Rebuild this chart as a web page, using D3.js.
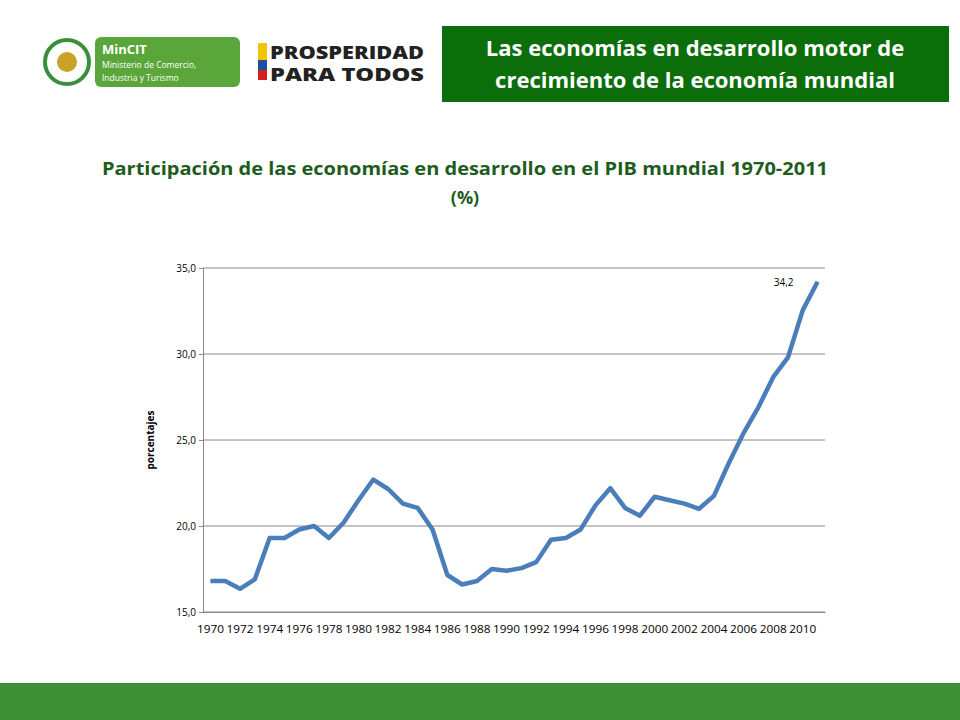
<!DOCTYPE html>
<meta charset="utf-8">
<html lang="es">
<head>
<script src="https://d3js.org/d3.v7.min.js"></script>
<style>
body { margin: 0; background: #fff; font-family: "Open Sans", Calibri, sans-serif; }
</style>
</head>
<body>
<div id="chart"></div>
<script>
const years = d3.range(1970, 2012).map(String);
const shares = [16.8, 16.8, 16.35, 16.9, 19.3, 19.3, 19.8, 20.0, 19.3, 20.2,
  21.5, 22.7, 22.15, 21.3, 21.05, 19.8, 17.15, 16.6, 16.8, 17.5,
  17.4, 17.55, 17.9, 19.2, 19.3, 19.8, 21.2, 22.2, 21.05, 20.6,
  21.7, 21.5, 21.3, 21.0, 21.75, 23.65, 25.4, 26.9, 28.65, 29.8,
  32.55, 34.2];
const yTicks = [15, 20, 25, 30, 35];
const fmt = v => d3.format(".1f")(v).replace(".", ",");

const svg = d3.select("#chart").append("svg").attr("width", 960).attr("height", 720);

// header
svg.append("rect").attr("x", 442).attr("y", 26).attr("width", 507).attr("height", 76).attr("fill", "#0b6e0b");
svg.append("text").attr("x", 695).attr("y", 56).attr("text-anchor", "middle").attr("fill", "#fff")
  .attr("font-size", 22).attr("font-weight", "bold").text("Las economías en desarrollo motor de");
svg.append("text").attr("x", 695).attr("y", 88).attr("text-anchor", "middle").attr("fill", "#fff")
  .attr("font-size", 22).attr("font-weight", "bold").text("crecimiento de la economía mundial");

// MinCIT logo
svg.append("circle").attr("cx", 67).attr("cy", 62).attr("r", 22).attr("fill", "#fff").attr("stroke", "#3a8f3a").attr("stroke-width", 4);
svg.append("circle").attr("cx", 67).attr("cy", 62).attr("r", 10).attr("fill", "#c9a227");
svg.append("rect").attr("x", 95).attr("y", 37).attr("width", 145).attr("height", 50).attr("rx", 6).attr("fill", "#5aa63a");
svg.append("text").attr("x", 102).attr("y", 54).attr("fill", "#fff").attr("font-size", 13).attr("font-weight", "bold").text("MinCIT");
svg.append("text").attr("x", 102).attr("y", 68).attr("fill", "#fff").attr("font-size", 8.5).text("Ministerio de Comercio,");
svg.append("text").attr("x", 102).attr("y", 81).attr("fill", "#fff").attr("font-size", 8.5).text("Industria y Turismo");

// Prosperidad logo
svg.append("rect").attr("x", 258).attr("y", 43).attr("width", 9).attr("height", 17).attr("fill", "#f5c400");
svg.append("rect").attr("x", 258).attr("y", 60).attr("width", 9).attr("height", 10).attr("fill", "#1d4ea0");
svg.append("rect").attr("x", 258).attr("y", 70).attr("width", 9).attr("height", 10).attr("fill", "#d62020");
svg.append("text").attr("x", 270).attr("y", 59).attr("font-size", 17).attr("font-weight", "900").attr("fill", "#222")
  .attr("textLength", 154).attr("lengthAdjust", "spacingAndGlyphs").text("PROSPERIDAD");
svg.append("text").attr("x", 270).attr("y", 81).attr("font-size", 17).attr("font-weight", "900").attr("fill", "#222")
  .attr("textLength", 154).attr("lengthAdjust", "spacingAndGlyphs").text("PARA TODOS");

// title
svg.append("text").attr("x", 465).attr("y", 175).attr("text-anchor", "middle").attr("fill", "#1e5c1e")
  .attr("font-size", 18).attr("font-weight", "bold")
  .attr("textLength", 726).attr("lengthAdjust", "spacingAndGlyphs")
  .text("Participación de las economías en desarrollo en el PIB mundial 1970-2011");
svg.append("text").attr("x", 465).attr("y", 204).attr("text-anchor", "middle").attr("fill", "#1e5c1e")
  .attr("font-size", 18).attr("font-weight", "bold").text("(%)");

// footer
svg.append("rect").attr("x", 0).attr("y", 683).attr("width", 960).attr("height", 37).attr("fill", "#3e9137");

// chart
const m = {left: 203, right: 825, top: 268, bottom: 612};
const x = d3.scaleBand().domain(years).range([m.left, m.right]);
const y = d3.scaleLinear().domain([15, 35]).range([m.bottom, m.top]);

svg.append("g").selectAll("line").data(yTicks).join("line")
  .attr("x1", m.left).attr("x2", m.right).attr("y1", d => y(d)).attr("y2", d => y(d))
  .attr("stroke", "#888").attr("stroke-width", 1);

const yAxis = svg.append("g").attr("transform", `translate(${m.left},0)`)
  .call(d3.axisLeft(y).tickValues(yTicks).tickFormat(fmt).tickSize(4));
yAxis.select(".domain").attr("stroke", "#888");
yAxis.selectAll("line").attr("stroke", "#888");
yAxis.selectAll("text").attr("font-size", 10).attr("font-family", "Open Sans, sans-serif").attr("fill", "#000");

const xAxis = svg.append("g").attr("transform", `translate(0,${m.bottom})`)
  .call(d3.axisBottom(x).tickValues(years.filter((d, i) => i % 2 === 0)).tickSize(0).tickPadding(14));
xAxis.select(".domain").attr("stroke", "#888");
xAxis.selectAll("text").attr("font-size", 10).attr("font-family", "Open Sans, sans-serif").attr("fill", "#000")
  .attr("textLength", 27).attr("lengthAdjust", "spacingAndGlyphs");

svg.append("text").attr("transform", `translate(154,440) rotate(-90)`).attr("text-anchor", "middle")
  .attr("font-size", 10).attr("font-weight", "bold").text("porcentajes");

const line = d3.line().x((d, i) => x(years[i]) + x.bandwidth() / 2).y(d => y(d));
svg.append("path").datum(shares).attr("d", line).attr("fill", "none")
  .attr("stroke", "#4a7ebb").attr("stroke-width", 4.5).attr("stroke-linejoin", "round");

const last = shares.length - 1;
svg.append("text").attr("x", x(years[last]) + x.bandwidth() / 2 - 24).attr("y", y(shares[last]) + 4)
  .attr("text-anchor", "end").attr("font-size", 10).text(fmt(shares[last]));
</script>
</body>
</html>
